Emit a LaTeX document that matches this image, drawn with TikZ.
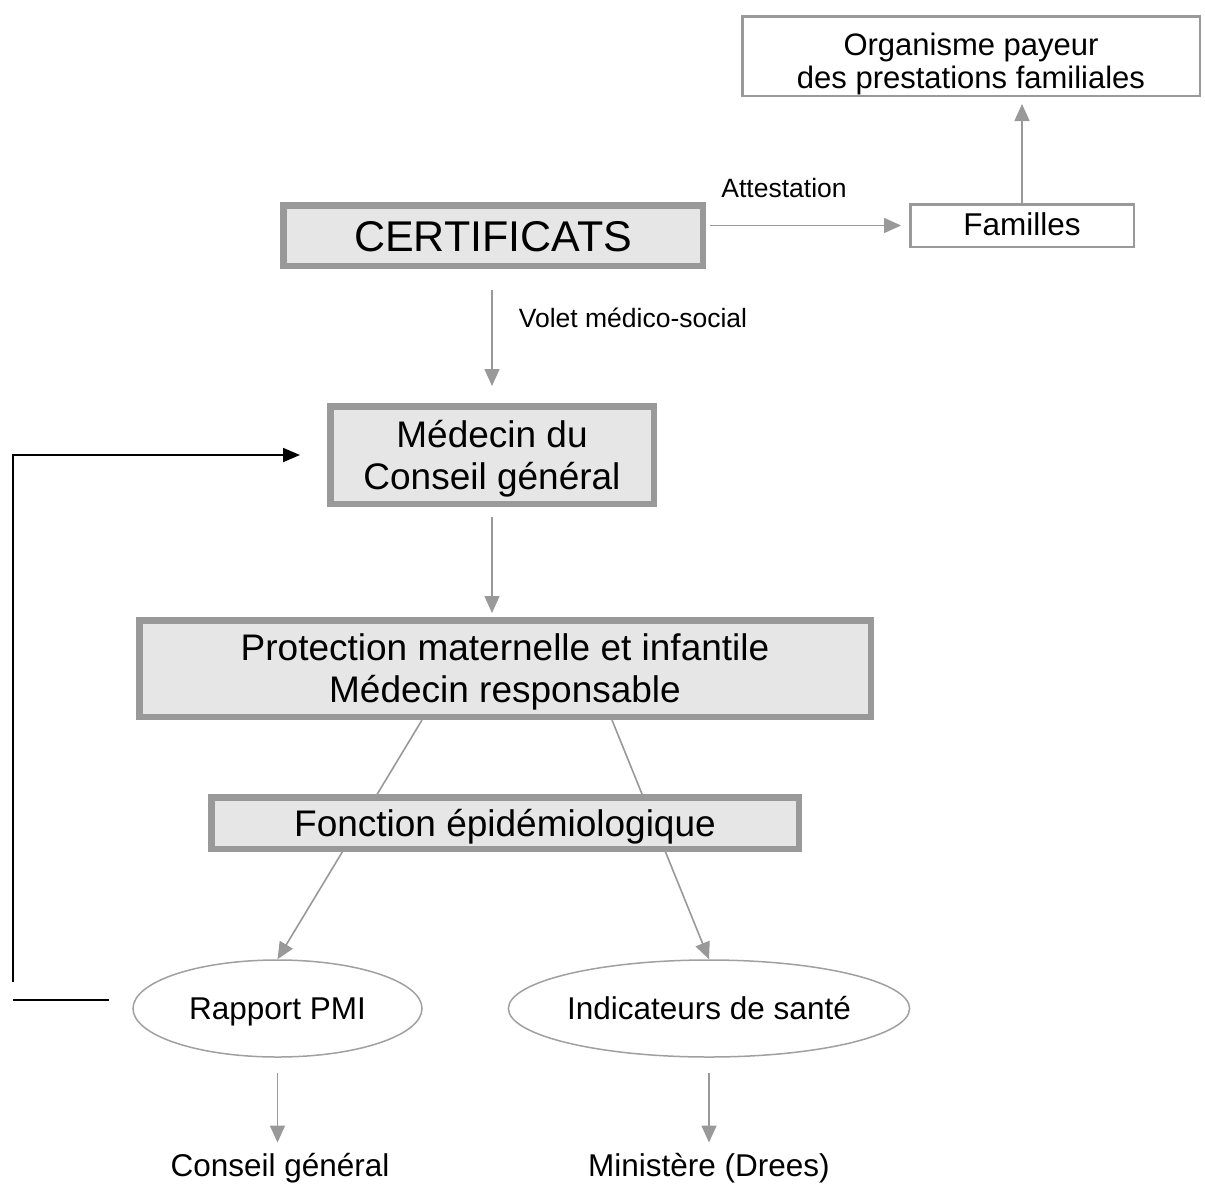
\documentclass[tikz,border=0pt]{standalone}
\usepackage{fontspec}
\setmainfont{Liberation Sans}
\usetikzlibrary{arrows.meta,shapes.geometric,backgrounds}
\definecolor{bordergray}{HTML}{999999}
\definecolor{fillgray}{HTML}{E6E6E6}
\definecolor{linegray}{HTML}{A0A0A0}
\tikzset{
  graybox/.style={draw=bordergray,line width=6.5pt,fill=fillgray,inner sep=0pt,align=center},
  whitebox/.style={draw=bordergray,line width=2.5pt,fill=white,inner sep=0pt,align=center},
  ovalnode/.style={ellipse,draw=linegray,line width=1.5pt,fill=white,inner sep=0pt,text height=22.5pt,text depth=0pt},
  plaintext/.style={inner sep=0pt,text height=22.5pt,text depth=0pt},
  smalltext/.style={inner sep=0pt,text height=19pt,text depth=0pt},
  garrow/.style={draw=bordergray,line width=1.6pt,-{Triangle[length=17pt,width=15pt]}},
  blkarrow/.style={draw=black,line width=1.8pt,-{Triangle[length=17pt,width=14pt]}},
  blkline/.style={draw=black,line width=1.8pt},
}
\begin{document}
\begin{tikzpicture}[x=1pt,y=-1pt]
\useasboundingbox (0,0) rectangle (1205,1184);

% nodes
\node[graybox,minimum width=419.5pt,minimum height=60.5pt,text height=31pt,text depth=0pt,font=\fontsize{43}{49}\selectfont] (cert) at (493,235.5) {CERTIFICATS};
\node[graybox,minimum width=323.5pt,minimum height=97.5pt,text height=68.5pt,text depth=0pt,font=\fontsize{37}{42}\selectfont] (med) at (492,455) {Médecin du\\Conseil général};
\node[graybox,minimum width=731.5pt,minimum height=96.5pt,text height=68.5pt,text depth=0pt,font=\fontsize{37}{42}\selectfont] (pmi) at (505,668.5) {Protection maternelle et infantile\\Médecin responsable};
\node[graybox,minimum width=587.5pt,minimum height=51.5pt,text height=26.5pt,text depth=0pt,font=\fontsize{37}{42}\selectfont] (fonc) at (505,823) {Fonction épidémiologique};
\node[whitebox,minimum width=457.5pt,minimum height=79.5pt,text height=64pt,text depth=0pt,font=\fontsize{31}{33}\selectfont] (org) at (971,56) {Organisme payeur\\des prestations familiales};
\node[whitebox,minimum width=223.5pt,minimum height=42.5pt,text height=22.5pt,text depth=3.5pt,font=\fontsize{31.5}{36}\selectfont] (fam) at (1022,225.5) {Familles};
\node[ovalnode,minimum width=289pt,minimum height=97pt,font=\fontsize{31.5}{36}\selectfont] (rap) at (277.5,1008.5) {Rapport PMI};
\node[ovalnode,minimum width=386pt,minimum height=97pt,font=\fontsize{31.5}{36}\selectfont] (ind) at (709,1008.5) {Indicateurs de santé};
\node[plaintext,font=\fontsize{31.5}{36}\selectfont] (cg) at (280,1165) {Conseil général};
\node[plaintext,font=\fontsize{31.5}{36}\selectfont] (min) at (709,1165) {Ministère (Drees)};

% labels
\node[smalltext,font=\fontsize{26.5}{30}\selectfont] (att) at (784,188) {Attestation};
\node[smalltext,font=\fontsize{26.5}{30}\selectfont] (volet) at (633,318) {Volet médico-social};

% connectors
\draw[garrow,shorten <=21pt,shorten >=17pt] (cert.south -| med.north) -- (med.north);
\draw[garrow,shorten <=10pt,shorten >=4pt] (med.south) -- (med.south |- pmi.north);
\draw[garrow,shorten <=4pt,shorten >=8pt] (cert.east |- fam.west) -- (fam.west);
\draw[garrow,shorten >=7pt] (fam.north) -- (fam.north |- org.south);
\begin{pgfonlayer}{background}
\draw[garrow] ([xshift=-83pt]pmi.south) -- (rap.north);
\draw[garrow] ([xshift=107pt]pmi.south) -- (ind.north);
\end{pgfonlayer}
\draw[garrow,shorten <=15pt,shorten >=11pt] (rap.south) -- (rap.south |- cg.north);
\draw[garrow,shorten <=15pt,shorten >=11pt] (ind.south) -- (ind.south |- min.north);

% feedback line
\coordinate (fbstart) at (13,982);
\coordinate (hstart) at (13,1000);
\coordinate (hend) at (109,1000);
\draw[blkarrow,shorten >=27pt] (fbstart) |- (med.west);
\draw[blkline] (hstart) -- (hend);
\end{tikzpicture}
\end{document}
